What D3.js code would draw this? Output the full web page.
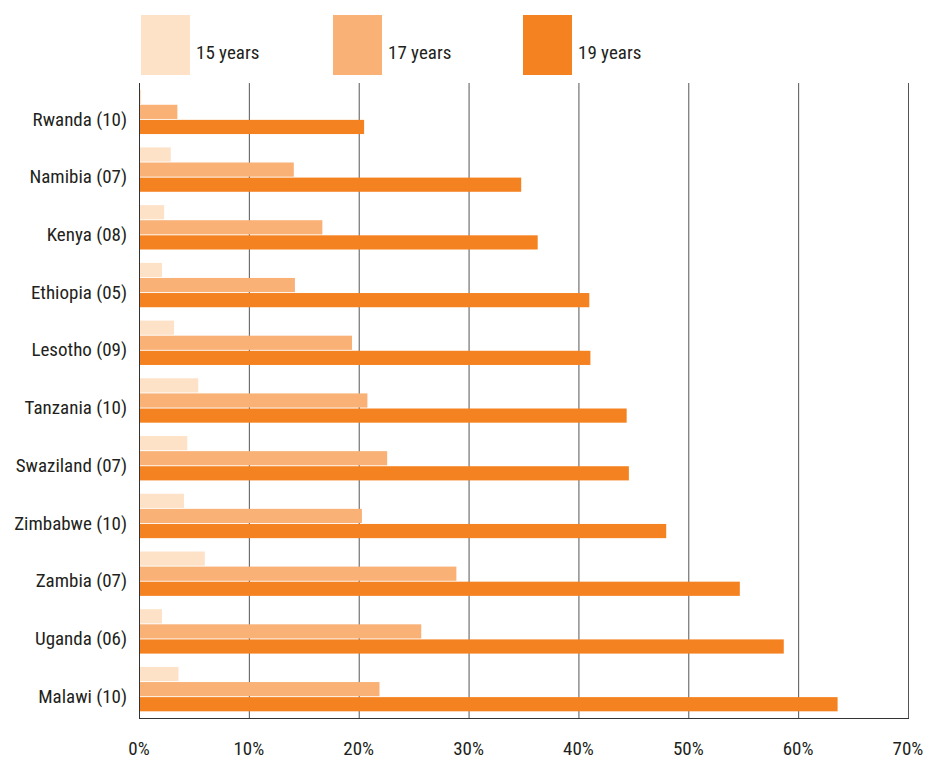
<!DOCTYPE html>
<html>
<head>
<meta charset="utf-8">
<script src="https://cdn.jsdelivr.net/npm/d3@7"></script>
<style>
  body { margin: 0; background: #fff; }
  text { font-family: "Liberation Sans Narrow", "Roboto Condensed", "Liberation Sans", sans-serif; fill: #231f20; }
</style>
</head>
<body>
<script>
// countries, top to bottom
var countries = ["Rwanda (10)", "Namibia (07)", "Kenya (08)", "Ethiopia (05)", "Lesotho (09)",
  "Tanzania (10)", "Swaziland (07)", "Zimbabwe (10)", "Zambia (07)", "Uganda (06)", "Malawi (10)"];
var series = ["15 years", "17 years", "19 years"];
var colors = ["#fde2c8", "#f9b176", "#f58220"];

// percent values per series
var age15 = [0.1, 2.8, 2.2, 2.0, 3.1, 5.3, 4.3, 4.0, 5.9, 2.0, 3.5];
var age17 = [3.4, 14.0, 16.6, 14.1, 19.3, 20.7, 22.5, 20.2, 28.8, 25.6, 21.8];
var age19 = [20.4, 34.7, 36.2, 40.9, 41.0, 44.3, 44.5, 47.9, 54.6, 58.6, 63.5];
var xTicks = [0, 10, 20, 30, 40, 50, 60, 70];

var values = [age15, age17, age19];

var w = 925, h = 759;
var mLeft = 139, mRight = 908, mTop = 83, mBottom = 718;

var svg = d3.select("body").append("svg")
  .attr("width", w).attr("height", h);

var x = d3.scaleLinear().domain([0, 70]).range([mLeft, mRight]);
var y = d3.scaleBand().domain(countries).range([mTop, mBottom])
  .paddingInner(0.2).paddingOuter(0.1);
var ySub = d3.scaleBand().domain(series).range([0, y.bandwidth()]).padding(0.06);

// gridlines
svg.append("g").selectAll("line")
  .data(xTicks)
  .enter().append("line")
  .attr("x1", d => x(d) + 0.5).attr("x2", d => x(d) + 0.5)
  .attr("y1", mTop).attr("y2", mBottom)
  .attr("stroke", d => d == 0 ? "#333" : "#555")
  .attr("stroke-width", 1);

// bottom line
svg.append("line")
  .attr("x1", mLeft).attr("x2", mRight + 1)
  .attr("y1", mBottom + 0.5).attr("y2", mBottom + 0.5)
  .attr("stroke", "#333");

// bars
var groups = svg.append("g").selectAll("g")
  .data(countries)
  .enter().append("g")
  .attr("transform", d => "translate(0," + y(d) + ")");

groups.selectAll("rect")
  .data((d, i) => series.map((s, k) => ({ s: s, k: k, v: values[k][i] })))
  .enter().append("rect")
  .attr("x", x(0) + 1)
  .attr("y", d => ySub(d.s))
  .attr("width", d => x(d.v) - x(0))
  .attr("height", ySub.bandwidth())
  .attr("fill", d => colors[d.k]);

// country labels
groups.append("text")
  .attr("x", 127)
  .attr("y", y.bandwidth() / 2 + 7)
  .attr("dy", "0.35em")
  .attr("text-anchor", "end")
  .style("font-size", "19px")
  .text(d => d);

// x axis labels
svg.append("g").selectAll("text")
  .data(xTicks)
  .enter().append("text")
  .attr("x", d => x(d))
  .attr("y", 748)
  .attr("dy", "0.35em")
  .attr("text-anchor", "middle")
  .style("font-size", "19px")
  .text(d => d + "%");

// legend
var legX = [141, 333, 523];
var leg = svg.append("g").selectAll("g")
  .data(series)
  .enter().append("g")
  .attr("transform", (d, i) => "translate(" + legX[i] + ",15)");

leg.append("rect")
  .attr("width", 49).attr("height", 60)
  .attr("fill", (d, i) => colors[i]);

leg.append("text")
  .attr("x", 55).attr("y", 37)
  .attr("dy", "0.35em")
  .style("font-size", "19px")
  .text(d => d);
</script>
</body>
</html>
